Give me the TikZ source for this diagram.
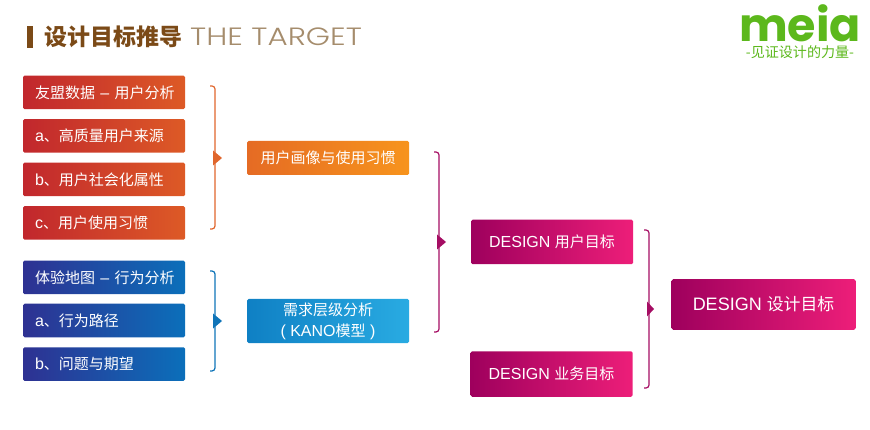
\documentclass[tikz,border=0pt]{standalone}
\usepackage{fontspec}
\setmainfont{Liberation Sans}
\newfontfamily\cjk[Scale=0.9375]{Noto Sans CJK SC}
\newfontfamily\latinthin[UprightFont=* Light,FakeStretch=1.24]{Poppins}
\newfontfamily\logofont[BoldFont=* Bold]{Poppins}
\definecolor{titlebrown}{HTML}{7B4A17}
\definecolor{titlelight}{HTML}{A58C6C}
\definecolor{logogreen}{HTML}{5CB81C}
\definecolor{braceorange}{HTML}{E0662C}
\definecolor{braceblue}{HTML}{0F74B8}
\definecolor{bracepink}{HTML}{A50D63}
\definecolor{redleft}{HTML}{C1272D}
\definecolor{redright}{HTML}{DD5A26}
\definecolor{blueleft}{HTML}{2E3192}
\definecolor{blueright}{HTML}{0B6FBA}
\definecolor{orangeleft}{HTML}{E56B24}
\definecolor{orangeright}{HTML}{F7941D}
\definecolor{skyleft}{HTML}{0F80C4}
\definecolor{skyright}{HTML}{29ABE2}
\definecolor{pinkleft}{HTML}{9E005D}
\definecolor{pinkright}{HTML}{ED1E79}
\tikzset{
  box/.style={rounded corners=1.5pt, text=white, inner xsep=0pt, inner ysep=0pt, align=center, font=\fontsize{16}{21}\selectfont},
  leftbox/.style={box, minimum height=33.5pt, minimum width=162pt, text width=138pt, align=left},
  redbox/.style={leftbox, left color=redleft, right color=redright},
  bluebox/.style={leftbox, left color=blueleft, right color=blueright},
  orangebox/.style={box, minimum width=162pt, left color=orangeleft, right color=orangeright},
  skybox/.style={box, minimum width=162pt, left color=skyleft, right color=skyright},
  pinkbox/.style={box, minimum width=162pt, left color=pinkleft, right color=pinkright},
  bracket/.style={line width=1.2pt, rounded corners=3pt},
}
\begin{document}
\begin{tikzpicture}[x=1pt,y=-1pt]
\useasboundingbox (0,0) rectangle (870,430);
% heading
\fill[titlebrown] (27,26) rectangle (33,48);
\node[anchor=west, inner sep=0pt, text=titlebrown, font=\fontsize{24.5}{25}\selectfont\cjk\bfseries] (heading) at (44,37) {设计目标推导};
\node[anchor=west, inner sep=0pt, text=titlelight, font=\fontsize{25}{25}\selectfont\latinthin] (headingen) at (190,37) {THE TARGET};
% logo
\node[anchor=base, inner sep=0pt, text=logogreen, font=\fontsize{46}{46}\selectfont\logofont\bfseries] (logo) at (800,42) {meia};
\node[anchor=base, inner sep=0pt, text height=12pt, text depth=2pt, text=logogreen, font=\fontsize{15}{16}\selectfont\cjk] (slogan) at (800,57.5) {-见证设计的力量-};
% left column
\node[redbox] (data0) at (104,92.5) {\mbox{{\cjk 友盟数据} – {\cjk 用户分析}}};
\node[redbox] (data1) at (104,136) {a{\cjk 、高质量用户来源}};
\node[redbox] (data2) at (104,179.5) {b{\cjk 、用户社会化属性}};
\node[redbox] (data3) at (104,223) {c{\cjk 、用户使用习惯}};
\node[bluebox] (map0) at (104,277.5) {\mbox{{\cjk 体验地图} – {\cjk 行为分析}}};
\node[bluebox] (map1) at (104,320.5) {a{\cjk 、行为路径}};
\node[bluebox] (map2) at (104,364) {b{\cjk 、问题与期望}};
% middle column
\node[orangebox, minimum height=34pt] (habit) at (328,158) {\cjk 用户画像与使用习惯};
\node[skybox, minimum height=44pt] (kano) at (328,321) {{\cjk 需求层级分析}\\( KANO{\cjk 模型} )};
% right columns
\node[pinkbox, minimum height=44.5pt] (user) at (552,242) {DESIGN {\cjk 用户目标}};
\node[pinkbox, minimum height=45.5pt] (biz) at (551.5,374) {DESIGN {\cjk 业务目标}};
\node[pinkbox, minimum width=184pt, minimum height=50.5pt, font=\fontsize{18}{21}\selectfont] (goal) at (763.5,304.5) {DESIGN {\cjk 设计目标}};
% brackets
\coordinate (topa) at (210,86);
\coordinate (tipa) at (222,158);
\coordinate (topb) at (210,271);
\coordinate (tipb) at (222,321);
\coordinate (topc) at (434,152);
\coordinate (tipc) at (446,242);
\coordinate (topd) at (644,230);
\coordinate (tipd) at (654,309);
\draw[bracket, braceorange] (topa) -- ++(5,0) -- ++(0,143) -- ++(-5,0);
\fill[braceorange] (tipa) -- ++(-9,-7.5) -- ++(0,15) -- cycle;
\draw[bracket, braceblue] (topb) -- ++(5,0) -- ++(0,100) -- ++(-5,0);
\fill[braceblue] (tipb) -- ++(-9,-7.5) -- ++(0,15) -- cycle;
\draw[bracket, bracepink] (topc) -- ++(5,0) -- ++(0,180) -- ++(-5,0);
\fill[bracepink] (tipc) -- ++(-9,-7.5) -- ++(0,15) -- cycle;
\draw[bracket, bracepink] (topd) -- ++(5,0) -- ++(0,158) -- ++(-5,0);
\fill[bracepink] (tipd) -- ++(-7,-7.5) -- ++(0,15) -- cycle;
\end{tikzpicture}
\end{document}
